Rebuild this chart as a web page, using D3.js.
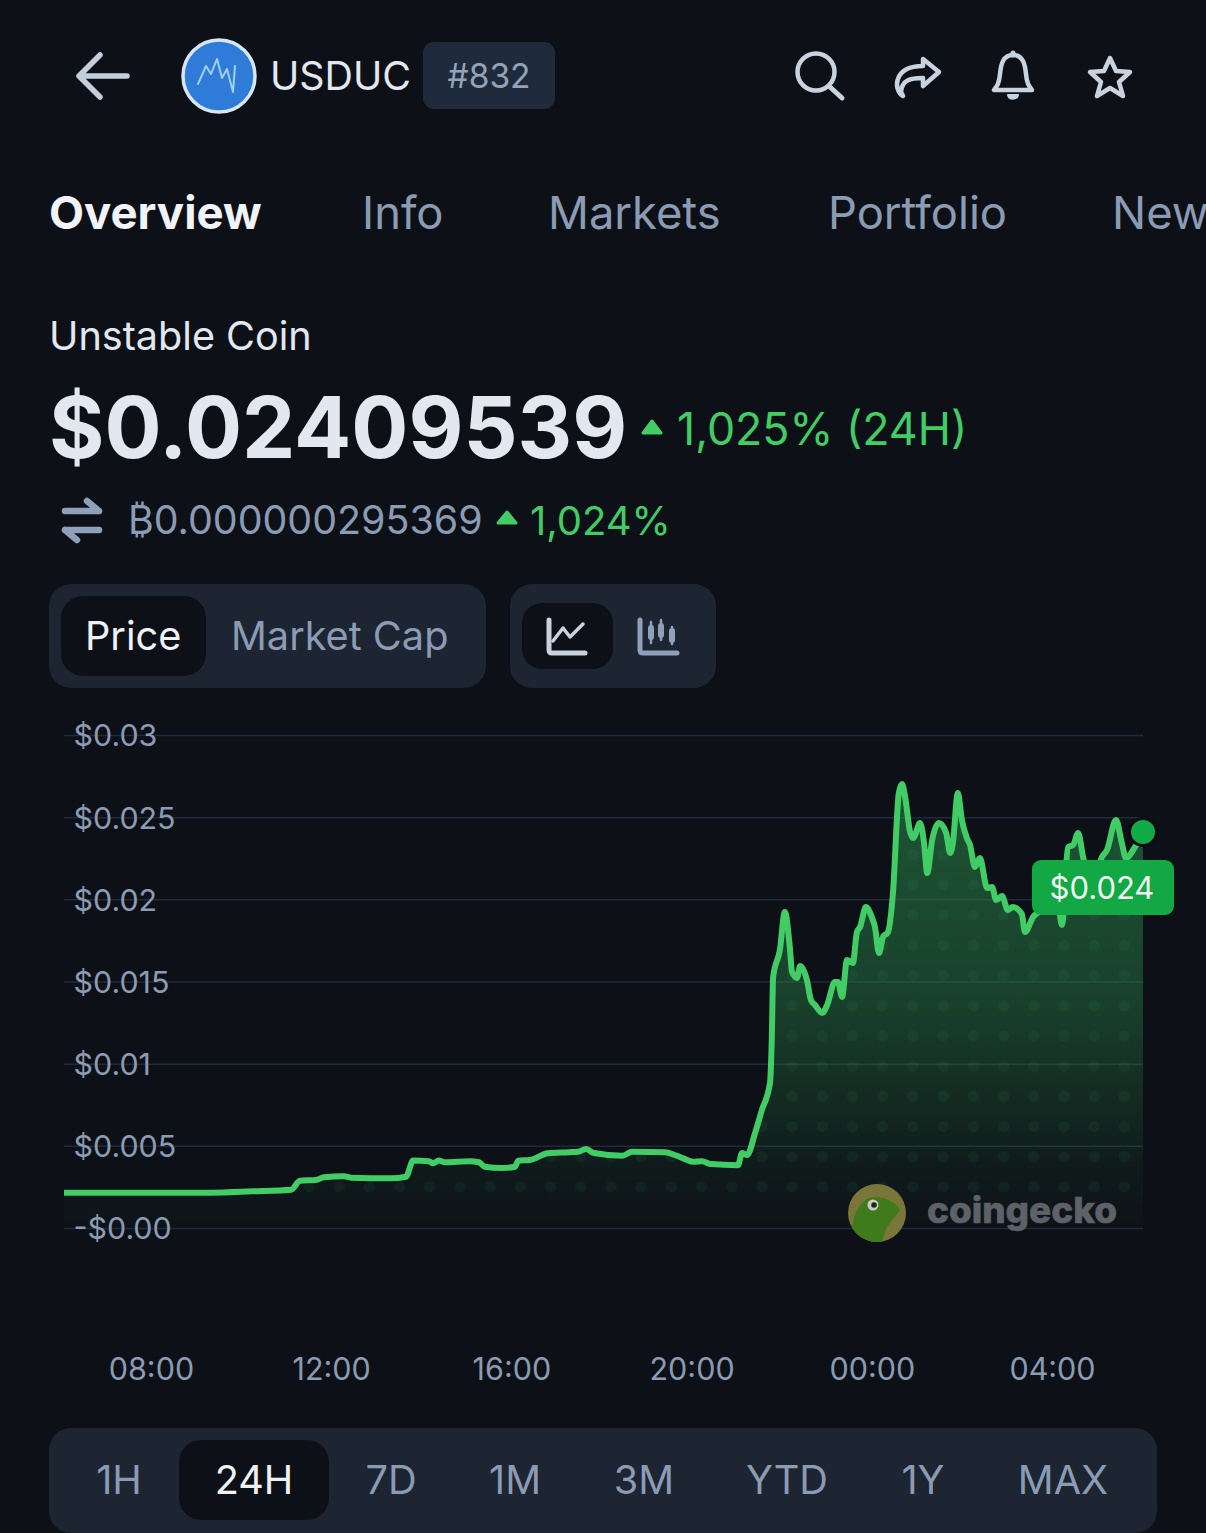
<!DOCTYPE html>
<html>
<head>
<meta charset="utf-8">
<script src="https://cdn.jsdelivr.net/npm/d3@7"></script>
<style>
  html, body { margin: 0; padding: 0; background: #0d1117; overflow: hidden; }
  svg { display: block; font-family: Inter, Roboto, sans-serif; }
</style>
</head>
<body>
<svg id="chart" width="1206" height="1533"></svg>
<script>
// hours counted from the midnight before the first 08:00 tick
var hours = [6.07,9.33,10.24,11.11,11.31,11.66,11.84,12.28,12.44,13.31,13.66,13.82,14.17,14.26,14.39,14.53,
  15.08,15.28,15.41,15.79,16.08,16.15,16.41,16.81,17.28,17.48,17.66,17.83,18.46,18.68,19.41,19.63,19.83,
  20.03,20.23,20.43,21.03,21.12,21.23,21.41,21.56,21.74,21.78,21.81,21.96,22.07,22.18,22.23,22.34,22.41,
  22.56,22.65,22.74,22.90,23.01,23.18,23.25,23.34,23.45,23.58,23.67,23.74,23.87,24.00,24.07,24.16,24.25,
  24.36,24.47,24.60,24.67,24.74,24.85,24.92,25.07,25.16,25.23,25.34,25.49,25.65,25.74,25.80,25.91,26.00,
  26.11,26.18,26.29,26.40,26.56,26.67,26.76,26.89,27.02,27.13,27.33,27.40,27.58,27.96,28.11,28.22,28.36,
  28.47,28.58,28.69,28.89,29.11,29.22,29.42,29.55,29.64,29.84,30.02];
var prices = [.00215,.00215,.00223,.00233,.00288,.00292,.00309,.00315,.00306,.00302,.00312,.00410,.00406,.00394,.00410,.00400,
  .00406,.00400,.00373,.00365,.00373,.00410,.00414,.00455,.00461,.00464,.00481,.00456,.00440,.00464,.00461,.00444,.00422,
  .00403,.00406,.00389,.00382,.00456,.00444,.00578,.00718,.00882,.01144,.01527,.01692,.01923,.01710,.01558,.01521,.01594,
  .01509,.01387,.01357,.01308,.01357,.01497,.01497,.01406,.01631,.01613,.01801,.01832,.01953,.01892,.01832,.01673,.01771,
  .01801,.02038,.02647,.02702,.02623,.02410,.02373,.02464,.02343,.02160,.02361,.02464,.02404,.02282,.02343,.02647,.02483,
  .02373,.02331,.02197,.02251,.02069,.02075,.01996,.02020,.01935,.01953,.01911,.01801,.01892,.01965,.02026,.01844,.02318,
  .02331,.02404,.02258,.02087,.02258,.02300,.02483,.02343,.02251,.02318,.02410];

var yTicks = [0, 0.005, 0.01, 0.015, 0.02, 0.025, 0.03];
var yTickLabels = ["-$0.00", "$0.005", "$0.01", "$0.015", "$0.02", "$0.025", "$0.03"];
var xTicks = [8, 12, 16, 20, 24, 28];
var xTickLabels = ["08:00", "12:00", "16:00", "20:00", "00:00", "04:00"];
var tabs = ["Overview", "Info", "Markets", "Portfolio", "New"];
var tabX = [49, 362, 548, 828, 1112];
var ranges = ["1H", "24H", "7D", "1M", "3M", "YTD", "1Y", "MAX"];
var rangeX = [119, 254, 391, 515, 644, 787, 923, 1063];

var BG = "#0d1117", PANEL = "#1c2531", MUTED = "#8b9bb4", LIGHT = "#e3e8f0", GREEN = "#42cc66";

var svg = d3.select("#chart");
var defs = svg.append("defs");
svg.append("rect").attr("width", 1206).attr("height", 1533).attr("fill", BG);

function label(x, y, s, size, fill, weight, anchor) {
  return svg.append("text").attr("x", x).attr("y", y).text(s)
    .attr("font-size", size).attr("fill", fill)
    .attr("font-weight", weight || 400).attr("text-anchor", anchor || "start");
}
function box(x, y, w, h, r, fill) {
  return svg.append("rect").attr("x", x).attr("y", y).attr("width", w).attr("height", h).attr("rx", r).attr("fill", fill);
}
function icon(d, stroke, width, fill) {
  return svg.append("path").attr("d", d).attr("fill", fill || "none").attr("stroke", stroke)
    .attr("stroke-width", width).attr("stroke-linecap", "round").attr("stroke-linejoin", "round");
}

// header
icon("M127 76H79M100 55L79 76L100 97", "#c3cedc", 5.5);
svg.append("circle").attr("cx", 219).attr("cy", 76).attr("r", 36).attr("fill", "#2f7bd8").attr("stroke", "#d6e6f4").attr("stroke-width", 3.5);
icon("M198 84L206 66L211 74L217 59L222 78L227 69L233 92L235 66", "#9fd0f4", 2);
label(270, 90, "USDUC", 39.4, LIGHT);
box(423, 42, 132, 67, 11, "#1f2b3a");
label(489, 88, "#832", 33.5, "#93a3ba", 400, "middle");

svg.append("circle").attr("cx", 816).attr("cy", 72).attr("r", 18.5).attr("fill", "none").attr("stroke", "#c9d3df").attr("stroke-width", 4.5);
icon("M830 87L842 98", "#c9d3df", 5);
icon("M923 59L939 72L923 86V78C910 78 902 80 901 92L903 96C893 90 893 66 923 66Z", "#c9d3df", 4.5);
icon("M1013 55C1003 55 1001 64 1000 74C999 84 997 86 994 90H1032C1029 86 1027 84 1026 74C1025 64 1023 55 1013 55Z", "#c9d3df", 4.5);
icon("M1013 55V53", "#c9d3df", 5);
icon("M1008 95C1009 100 1017 100 1018 95Z", "#c9d3df", 2, "#c9d3df");
icon("M1110 58L1116 71L1130 72L1119 82L1123 96L1110 88L1097 96L1101 82L1090 72L1104 71Z", "#c9d3df", 4.5);

// tabs
tabs.forEach(function(t, i) {
  label(tabX[i], 229, t, i === 0 ? 45.5 : 45.3, i === 0 ? "#f0f3f7" : MUTED, i === 0 ? 700 : 400);
});

// price block
label(49, 350, "Unstable Coin", 39.6, LIGHT);
label(49, 458, "$0.02409539", 84.7, LIGHT, 700);
icon("M643 433L652 421L661 433Z", GREEN, 3, GREEN);
label(677, 445, "1,025% (24H)", 44.7, GREEN);
icon("M65 511H99M87 501L99 511M99 530H65M77 540L65 530", "#8fa0ba", 6.5);
label(128, 534, "\u20BF0.000000295369", 39.4, MUTED);
icon("M498 523L507 512L516 523Z", GREEN, 3, GREEN);
label(530, 535, "1,024%", 40, GREEN);

// toggles
box(49, 584, 437, 104, 22, PANEL);
box(61, 596, 145, 80, 22, BG);
label(85, 650, "Price", 39.7, "#eef1f5");
label(231, 650, "Market Cap", 39.7, MUTED);
box(510, 584, 206, 104, 22, PANEL);
box(522, 603, 91, 66, 20, BG);
icon("M549 620V650C549 652 550 653 552 653H585", "#c9d3df", 5);
icon("M553 641L563 628L570 637L583 624", "#c9d3df", 3.5);
icon("M640 620V650C640 652 641 653 643 653H677", "#8fa0ba", 5);
icon("M651 622V643M661 620V640M672 627V644", "#8fa0ba", 2.5);
icon("M651 628V637M661 626V635M672 631V640", "#8fa0ba", 6);

// chart
var x = d3.scaleLinear().domain([6.07, 30.02]).range([64, 1143]);
var y = d3.scaleLinear().domain([0, 0.03]).range([1228, 735]);
var series = d3.zip(hours, prices);

var yAxis = d3.axisRight(y).tickValues(yTicks).tickFormat(function(d, i) { return yTickLabels[i]; }).tickSize(x.range()[1] - x.range()[0]);
var gy = svg.append("g").attr("transform", "translate(64,0)").call(yAxis);
gy.select(".domain").remove();
gy.selectAll("line").attr("stroke", "#1f2a3a").attr("stroke-width", 1.5);
gy.selectAll("text").attr("x", 9.5).attr("dy", "0.36em").attr("font-size", 30.4).attr("fill", MUTED).attr("font-family", "Inter");

var grad = defs.append("linearGradient").attr("id", "areaFill").attr("gradientUnits", "userSpaceOnUse")
  .attr("x1", 0).attr("x2", 0).attr("y1", y(0.027)).attr("y2", y(0));
grad.append("stop").attr("offset", 0).attr("stop-color", "#2f9a52").attr("stop-opacity", 0.5);
grad.append("stop").attr("offset", 0.5).attr("stop-color", "#2f9a52").attr("stop-opacity", 0.34);
grad.append("stop").attr("offset", 0.85).attr("stop-color", "#2f9a52").attr("stop-opacity", 0.08);
grad.append("stop").attr("offset", 1).attr("stop-color", "#2f9a52").attr("stop-opacity", 0.01);

var area = d3.area().x(function(d) { return x(d[0]); }).y0(y(0)).y1(function(d) { return y(d[1]); }).curve(d3.curveMonotoneX);
var line = d3.line().x(function(d) { return x(d[0]); }).y(function(d) { return y(d[1]); }).curve(d3.curveMonotoneX);

// dotted texture, only shows inside the area and stops above the zero line
var dots = defs.append("pattern").attr("id", "dots").attr("patternUnits", "userSpaceOnUse")
  .attr("width", 30.2).attr("height", 30.2).attr("x", 762 - 15.1).attr("y", 1187 - 15.1);
dots.append("circle").attr("cx", 15.1).attr("cy", 15.1).attr("r", 5.5).attr("fill", "#3fbf68").attr("opacity", 0.07);
defs.append("clipPath").attr("id", "dotClip").append("rect").attr("x", 0).attr("y", 0).attr("width", 1206).attr("height", 1200);

svg.append("path").datum(series).attr("d", area).attr("fill", "url(#areaFill)");
svg.append("path").datum(series).attr("d", area).attr("fill", "url(#dots)").attr("clip-path", "url(#dotClip)");

// watermark
defs.append("clipPath").attr("id", "geckoClip").append("circle").attr("cx", 877).attr("cy", 1213).attr("r", 29);
svg.append("circle").attr("cx", 877).attr("cy", 1213).attr("r", 29).attr("fill", "#7a763a");
svg.append("path").attr("d", "M848 1245L853 1222C856 1208 863 1198 875 1197C886 1197 897 1203 900 1210C896 1218 885 1222 882 1245Z")
  .attr("fill", "#3f7a1c").attr("clip-path", "url(#geckoClip)");
svg.append("circle").attr("cx", 873).attr("cy", 1205).attr("r", 5.5).attr("fill", "#c9ccc4");
svg.append("circle").attr("cx", 874).attr("cy", 1205).attr("r", 2.8).attr("fill", "#1c2a14");
label(927, 1223, "coingecko", 36, "#5d6168", 800).attr("stroke", "#5d6168").attr("stroke-width", 0.6)
  .attr("textLength", 190).attr("lengthAdjust", "spacingAndGlyphs");

svg.append("path").datum(series).attr("d", line).attr("fill", "none").attr("stroke", GREEN)
  .attr("stroke-width", 6).attr("stroke-linejoin", "round").attr("stroke-linecap", "butt");

var last = series[series.length - 1];
svg.append("circle").attr("cx", x(last[0])).attr("cy", y(last[1])).attr("r", 13.5).attr("fill", "#12ab46").attr("stroke", "#0a0e12").attr("stroke-width", 3);
box(1032, 860, 142, 55, 9, "#12a844");
label(1102, 899, "$0.024", 31, "#f2f7f4", 400, "middle");

var xAxis = d3.axisBottom(x).tickValues(xTicks).tickFormat(function(d, i) { return xTickLabels[i]; }).tickSize(0);
var gx = svg.append("g").attr("transform", "translate(0,1352)").call(xAxis);
gx.select(".domain").remove();
gx.selectAll("text").attr("y", 27.5).attr("dy", 0).attr("font-size", 30.5).attr("fill", MUTED).attr("font-family", "Inter");

// range selector
box(49, 1428, 1108, 105, 22, PANEL);
box(179, 1440, 150, 80, 22, BG);
ranges.forEach(function(r, i) {
  label(rangeX[i], 1494, r, 39.7, i === 1 ? "#eef1f5" : MUTED, 400, "middle");
});
</script>
</body>
</html>
